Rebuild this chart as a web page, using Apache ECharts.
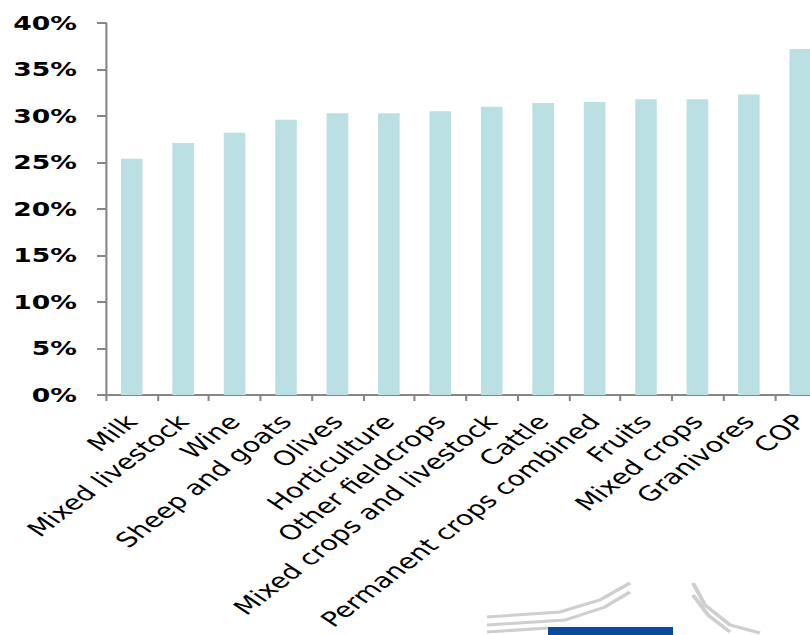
<!DOCTYPE html>
<html>
<head>
<meta charset="utf-8">
<script src="https://cdn.jsdelivr.net/npm/echarts@6/dist/echarts.min.js"></script>
<style>
html,body{margin:0;padding:0;background:#fff;overflow:hidden;width:810px;height:635px;}
#chart{width:578.57px;height:635px;transform:scaleX(1.4);transform-origin:0 0;}
</style>
</head>
<body>
<div id="chart"></div>
<script>
const categories = ["Milk","Mixed livestock","Wine","Sheep and goats","Olives","Horticulture","Other fieldcrops","Mixed crops and livestock","Cattle","Permanent crops combined","Fruits","Mixed crops","Granivores","COP"];
const values = [25.4, 27.1, 28.2, 29.6, 30.3, 30.3, 30.5, 31.0, 31.4, 31.5, 31.8, 31.8, 32.3, 37.2];
const yTicks = [0, 5, 10, 15, 20, 25, 30, 35, 40];

const S = 1.4; // horizontal stretch of the original picture
const chart = echarts.init(document.getElementById('chart'), null, {renderer: 'svg'});
chart.setOption({
  animation: false,
  grid: {left: 106 / S, width: 720 / S, top: 23, bottom: 240, containLabel: false, outerBoundsMode: 'none'},
  xAxis: {
    type: 'category',
    data: categories,
    axisLine: {lineStyle: {color: '#868686', width: 2}},
    axisTick: {show: true, length: 6, lineStyle: {color: '#868686', width: 1.5}},
    axisLabel: {interval: 0, rotate: 47, margin: 23, color: '#000', fontFamily: 'DejaVu Sans', fontSize: 20.5}
  },
  yAxis: {
    type: 'value',
    min: yTicks[0], max: yTicks[yTicks.length-1], interval: 5,
    axisLine: {show: true, lineStyle: {color: '#868686', width: 1.5}},
    axisTick: {show: true, length: 9 / S, lineStyle: {color: '#868686', width: 2}},
    splitLine: {show: false},
    axisLabel: {formatter: v => v + '%', margin: 29 / S, color: '#000', fontFamily: 'DejaVu Sans', fontWeight: 'bold', fontSize: 19}
  },
  series: [{
    type: 'bar',
    data: values,
    barWidth: '42%',
    itemStyle: {color: '#bae0e3'}
  }],
  graphic: [
    {type: 'rect', shape: {x: 548 / S, y: 627, width: 125 / S, height: 10}, style: {fill: '#0a4a9a'}},
    {type: 'polyline', shape: {points: [[487/S,617],[560/S,612],[600/S,600],[630/S,583]]}, style: {stroke: '#cfcfcf', lineWidth: 3, fill: null}},
    {type: 'polyline', shape: {points: [[487/S,625],[565/S,620],[605/S,607],[630/S,592]]}, style: {stroke: '#cfcfcf', lineWidth: 3, fill: null}},
    {type: 'polyline', shape: {points: [[487/S,632],[548/S,628]]}, style: {stroke: '#cfcfcf', lineWidth: 3, fill: null}},
    {type: 'polyline', shape: {points: [[693/S,583],[705/S,605],[730/S,625],[760/S,633]]}, style: {stroke: '#cfcfcf', lineWidth: 3, fill: null}},
    {type: 'polyline', shape: {points: [[693/S,595],[708/S,615],[730/S,632]]}, style: {stroke: '#cfcfcf', lineWidth: 3, fill: null}}
  ]
});
</script>
</body>
</html>
